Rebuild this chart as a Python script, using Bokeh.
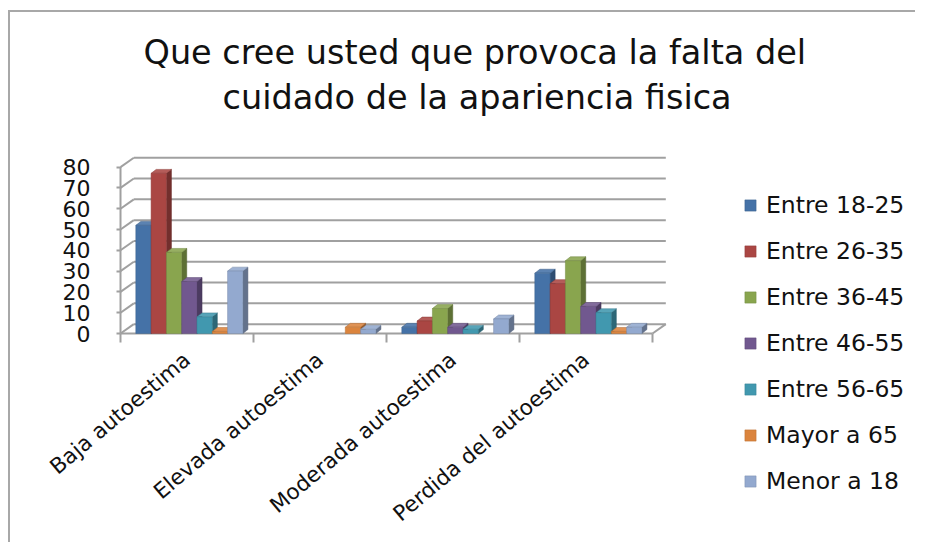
from bokeh.plotting import figure
from bokeh.models import Range1d, FixedTicker, Label, Legend, LegendItem
from bokeh.embed import file_html
from bokeh.resources import INLINE

# ---- data ----
title_lines = ["Que cree usted que provoca la falta del", "cuidado de la apariencia fisica"]
categories = ["Baja autoestima", "Elevada autoestima", "Moderada autoestima", "Perdida del autoestima"]
series_names = ["Entre 18-25", "Entre 26-35", "Entre 36-45", "Entre 46-55", "Entre 56-65", "Mayor a 65", "Menor a 18"]
entre_18_25 = [52, 0, 3, 29]
entre_26_35 = [77, 0, 6, 24]
entre_36_45 = [39, 0, 12, 35]
entre_46_55 = [25, 0, 3, 13]
entre_56_65 = [8, 0, 2, 10]
mayor_a_65 = [1, 3, 0, 1]
menor_a_18 = [30, 2, 7, 3]
series_values = [entre_18_25, entre_26_35, entre_36_45, entre_46_55, entre_56_65, mayor_a_65, menor_a_18]
y_ticks = [0, 10, 20, 30, 40, 50, 60, 70, 80]

# ---- style ----
front_colors = ["#4572A7", "#AA4643", "#89A54E", "#71588F", "#4198AF", "#DB843D", "#93A9CF"]
FONT = "DejaVu Sans"

def shade(hex_color, f):
    r, g, b = int(hex_color[1:3], 16), int(hex_color[3:5], 16), int(hex_color[5:7], 16)
    if f < 1:
        r, g, b = int(r * f), int(g * f), int(b * f)
    else:
        t = f - 1
        r, g, b = int(r + (255 - r) * t), int(g + (255 - g) * t), int(b + (255 - b) * t)
    return "#%02x%02x%02x" % (r, g, b)

n_cat = len(categories)
wall_dx, wall_dy = 0.1, 4.5      # depth offset of back wall (data units)
bar_w, bar_off = 0.115, 0.115    # bar width / left offset in category units
bar_ddx, bar_ddy = 0.038, 1.9    # bar depth

# the frame spans the whole canvas (so rotated labels and the legend are not clipped);
# both axes are pinned at 0
p = figure(width=915, height=542, title=None, toolbar_location=None, output_backend="svg",
           x_range=Range1d(-0.9023, 5.9774), y_range=Range1d(-100.48, 160.1),
           min_border_left=0, min_border_right=0, min_border_top=0, min_border_bottom=0)
p.outline_line_color = None
p.xgrid.visible = False
p.ygrid.visible = False
p.border_fill_color = None
p.background_fill_color = None
p.styles = {
    "background": "linear-gradient(#a8a8a8,#a8a8a8) 8px 10px / 100% 2px no-repeat, "
                  "linear-gradient(#a8a8a8,#a8a8a8) 8px 10px / 2px 100% no-repeat, #ffffff"
}

grid_col = "#a0a0a0"
# back wall gridlines
p.segment(x0=[wall_dx] * len(y_ticks), x1=[n_cat + wall_dx] * len(y_ticks),
          y0=[v + wall_dy for v in y_ticks], y1=[v + wall_dy for v in y_ticks],
          line_color=grid_col, line_width=2)
# side wall diagonals
p.segment(x0=[0] * len(y_ticks), x1=[wall_dx] * len(y_ticks),
          y0=y_ticks, y1=[v + wall_dy for v in y_ticks], line_color=grid_col, line_width=2)
# front axis lines / floor
p.segment(x0=[0, 0, n_cat], x1=[0, n_cat, n_cat + wall_dx], y0=[0, 0, 0], y1=[y_ticks[-1], 0, wall_dy],
          line_color=grid_col, line_width=2)

legend_items = []
for i, (name, vals) in enumerate(zip(series_names, series_values)):
    col = front_colors[i]
    xs_l, xs_r, tops = [], [], []
    side_xs, side_ys, top_xs, top_ys = [], [], [], []
    for j, v in enumerate(vals):
        if v <= 0:
            continue
        x0 = j + bar_off + i * bar_w
        x1 = x0 + bar_w
        xs_l.append(x0); xs_r.append(x1); tops.append(v)
        side_xs.append([x1, x1 + bar_ddx, x1 + bar_ddx, x1])
        side_ys.append([0, bar_ddy, v + bar_ddy, v])
        top_xs.append([x0, x0 + bar_ddx, x1 + bar_ddx, x1])
        top_ys.append([v, v + bar_ddy, v + bar_ddy, v])
    p.patches(xs=side_xs, ys=side_ys, fill_color=shade(col, 0.68), line_color=shade(col, 0.6), line_width=0.5)
    p.patches(xs=top_xs, ys=top_ys, fill_color=shade(col, 1.12), line_color=shade(col, 0.8), line_width=0.5)
    r = p.quad(left=xs_l, right=xs_r, bottom=[0] * len(tops), top=tops,
               fill_color=col, line_color=shade(col, 0.85), line_width=0.5)
    legend_items.append(LegendItem(label=name, renderers=[r]))

# y axis (pinned at x = 0)
p.yaxis.fixed_location = 0
p.yaxis.ticker = FixedTicker(ticks=y_ticks)
p.yaxis.axis_line_color = None
p.yaxis.major_tick_out = 4
p.yaxis.major_tick_in = 0
p.yaxis.major_tick_line_color = grid_col
p.yaxis.major_tick_line_width = 2
p.yaxis.minor_tick_line_color = None
p.yaxis.major_label_standoff = 26
p.yaxis.major_label_text_font = FONT
p.yaxis.major_label_text_font_size = "22px"
p.yaxis.major_label_text_color = "#111111"

# x axis (pinned at y = 0)
centers = [j + 0.5 for j in range(n_cat)]
p.xaxis.fixed_location = 0
p.xaxis.ticker = FixedTicker(ticks=centers, minor_ticks=list(range(n_cat + 1)))
p.xaxis.major_label_overrides = {c: lab for c, lab in zip(centers, categories)}
p.xaxis.major_label_orientation = 0.70
p.xaxis.axis_line_color = None
p.xaxis.major_tick_line_color = None
p.xaxis.minor_tick_out = 9
p.xaxis.minor_tick_in = 0
p.xaxis.minor_tick_line_color = grid_col
p.xaxis.minor_tick_line_width = 2
p.xaxis.major_label_standoff = 14
p.xaxis.major_label_text_font = FONT
p.xaxis.major_label_text_font_size = "21.5px"
p.xaxis.major_label_text_color = "#111111"

# title (two lines)
for txt, tx, ty in zip(title_lines, [0.173, 0.767], [135.1, 113.45]):
    p.add_layout(Label(x=tx, y=ty, text=txt, text_align="left", text_baseline="alphabetic",
                       text_font=FONT, text_font_size="33.5px", text_color="#111111"))

legend = Legend(items=legend_items, location=(743, 47), orientation="vertical",
                label_text_font=FONT, label_text_font_size="23.5px", label_text_color="#111111",
                glyph_width=14, glyph_height=14, label_standoff=9, spacing=18, padding=5,
                margin=0, label_height=26, background_fill_alpha=0, border_line_color=None)
p.add_layout(legend)

open("out.html", "w").write(file_html(p, INLINE))
